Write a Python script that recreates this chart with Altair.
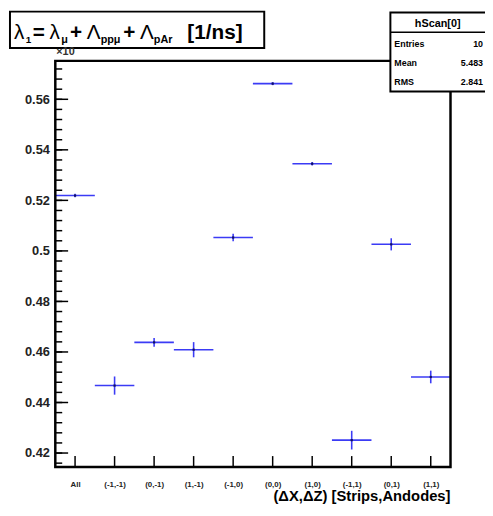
import altair as alt
import pandas as pd
import numpy as np

# ---- data ----
categories = ["All", "(-1,-1)", "(0,-1)", "(1,-1)", "(-1,0)", "(0,0)", "(1,0)", "(-1,1)", "(0,1)", "(1,1)"]
values = [0.5219, 0.4467, 0.4638, 0.4609, 0.5053, 0.5662, 0.5345, 0.4251, 0.5026, 0.4501]
errors = [0.0007, 0.0036, 0.0017, 0.0030, 0.0015, 0.0006, 0.0007, 0.0037, 0.0024, 0.0025]
major_ticks = [0.42, 0.44, 0.46, 0.48, 0.50, 0.52, 0.54, 0.56]
minor_ticks = [round(v, 3) for v in np.arange(0.416, 0.5751, 0.004)]
stats_names = ["Entries", "Mean", "RMS"]
stats_values = ["10", "5.483", "2.841"]

W, H = 401, 412
YDOM = [0.4145, 0.5752]
BLUE = "#3b3bf5"
FONT = "Liberation Sans"

df = pd.DataFrame({
    "cat": categories,
    "val": values,
    "err": errors,
})
df["lo"] = [float(i) for i in range(len(categories))]
df["hi"] = df["lo"] + 1
df["mid"] = df["lo"] + 0.5
df["ylo"] = df["val"] - df["err"]
df["yhi"] = df["val"] + df["err"]

label_array = "[" + ",".join("'" + c + "'" for c in categories) + "]"

xscale = alt.Scale(domain=[0, 10], nice=False, zero=False)
yscale = alt.Scale(domain=YDOM, nice=False, zero=False)

xaxis = alt.Axis(values=[i + 0.5 for i in range(10)], labelExpr=label_array + "[floor(datum.value)]",
                 ticks=False, domain=False, grid=False, title=None, labelFont=FONT,
                 labelFontWeight="bold", labelFontSize=8, labelColor="#222", labelPadding=14,
                 labelAngle=0)
yaxis = alt.Axis(values=major_ticks, format=".2~f", ticks=False, domain=False, grid=False,
                 title=None, labelFont=FONT, labelFontWeight="bold", labelFontSize=13,
                 labelColor="#222", labelPadding=6)

base = alt.Chart(df)
hbar = base.mark_rule(color=BLUE, strokeWidth=1.6).encode(
    x=alt.X("lo:Q", scale=xscale, axis=xaxis),
    x2="hi:Q",
    y=alt.Y("val:Q", scale=yscale, axis=yaxis),
)
vbar = base.mark_rule(color=BLUE, strokeWidth=1.6).encode(
    x=alt.X("mid:Q", scale=xscale), y=alt.Y("ylo:Q", scale=yscale), y2="yhi:Q")
pts = base.mark_square(color="#101060", size=5, opacity=1).encode(
    x=alt.X("mid:Q", scale=xscale), y=alt.Y("val:Q", scale=yscale))

# inside ticks
ymaj = alt.Chart(pd.DataFrame({"t": major_ticks})).mark_rule(color="black", strokeWidth=1.5).encode(
    y=alt.Y("t:Q", scale=yscale), x=alt.value(0), x2=alt.value(13))
ymin = alt.Chart(pd.DataFrame({"t": minor_ticks})).mark_rule(color="black", strokeWidth=1.5).encode(
    y=alt.Y("t:Q", scale=yscale), x=alt.value(0), x2=alt.value(7))
xt = alt.Chart(df).mark_rule(color="black", strokeWidth=1.5).encode(
    x=alt.X("mid:Q", scale=xscale), y=alt.value(H), y2=alt.value(H - 11))

frame = alt.Chart(pd.DataFrame({"a": [0]})).mark_rect(
    fill="white", fillOpacity=0, stroke="#000000", strokeWidth=2.5, strokeOpacity=1
).encode(x=alt.value(0), x2=alt.value(W), y=alt.value(0), y2=alt.value(H))

def seg(x1, y1, x2, y2, w=2):
    return alt.Chart(pd.DataFrame({"a": [0]})).mark_rule(color="black", strokeWidth=w).encode(
        x=alt.value(x1), x2=alt.value(x2), y=alt.value(y1), y2=alt.value(y2))

def txt(s, x, y, size, weight="bold", align="left", baseline="alphabetic", font=FONT, color="black"):
    return alt.Chart(pd.DataFrame({"t": [s]})).mark_text(
        align=align, baseline=baseline, fontSize=size, fontWeight=weight, font=font, color=color
    ).encode(x=alt.value(x), y=alt.value(y), text="t:N")

def box(x1, y1, x2, y2):
    return alt.Chart(pd.DataFrame({"a": [0]})).mark_rect(
        fill="white", stroke="black", strokeWidth=2
    ).encode(x=alt.value(x1), x2=alt.value(x2), y=alt.value(y1), y2=alt.value(y2))

# plot-relative pixel coords from reference image coords
OX, OY = 56, 58
def px(ix):
    return ix - OX
def py(iy):
    return iy - OY

title_layers = [box(px(10), py(8), px(268), py(45))]
BL = py(36)
SB = py(40)
pieces = [
    ("λ", 14, BL, 21, "normal"),
    ("1", 26, SB, 10, "bold"),
    ("=", 33, BL, 21, "bold"),
    ("λ", 50, BL, 21, "normal"),
    ("μ", 62, SB, 11, "bold"),
    ("+", 71, BL, 21, "bold"),
    ("Λ", 88, BL, 21, "normal"),
    ("ppμ", 102, SB, 11, "bold"),
    ("+", 125, BL, 21, "bold"),
    ("Λ", 142, BL, 21, "normal"),
    ("pAr", 156, SB, 11, "bold"),
    ("[1/ns]", 190, BL, 21, "bold"),
]
for s, ix, y, size, w in pieces:
    title_layers.append(txt(s, px(ix), y, size, weight=w))

# x10 label
title_layers.append(txt("×10", px(57), py(52), 11, weight="bold", color="#333"))

# stats box
stats_layers = [box(px(396), py(9), px(500), py(89)), seg(px(396), py(29), px(500), py(29), 1.5)]
stats_layers.append(txt("hScan[0]", px(444), py(24), 11, align="center"))
rows_y = [41, 60, 79]
for name, val, ry in zip(stats_names, stats_values, rows_y):
    stats_layers.append(txt(name, px(400), py(ry + 3), 9))
    stats_layers.append(txt(val, px(490), py(ry + 3), 9, align="right"))

xtitle = txt("(ΔX,ΔZ) [Strips,Andodes]", px(457), py(505), 15, align="right")

chart = alt.layer(hbar, vbar, pts, ymaj, ymin, xt, frame, *title_layers, *stats_layers, xtitle).properties(
    width=W, height=H,
    background="white",
    autosize=alt.AutoSizeParams(type="none"),
    padding={"left": 48, "top": 50, "right": 35, "bottom": 38},
).configure_view(stroke="transparent", strokeWidth=0)

chart.save("out.html", embed_options={"renderer": "svg", "actions": False})
